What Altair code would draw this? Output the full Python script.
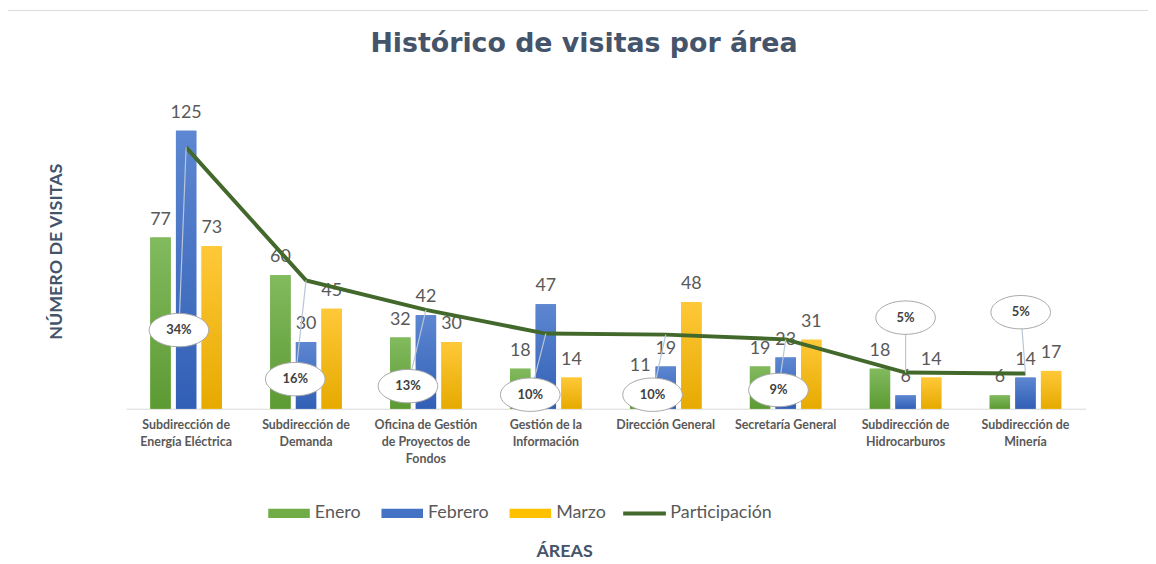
import altair as alt
import pandas as pd

# ---------------- data ----------------
area_lines = [
    ["Subdirección de", "Energía Eléctrica"],
    ["Subdirección de", "Demanda"],
    ["Oficina de Gestión", "de Proyectos de", "Fondos"],
    ["Gestión de la", "Información"],
    ["Dirección General"],
    ["Secretaría General"],
    ["Subdirección de", "Hidrocarburos"],
    ["Subdirección de", "Minería"],
]
areas = ["|".join(l) for l in area_lines]
series = ["Enero", "Febrero", "Marzo"]
enero = [77, 60, 32, 18, 11, 19, 18, 6]
febrero = [125, 30, 42, 47, 19, 23, 6, 14]
marzo = [73, 45, 30, 14, 48, 31, 14, 17]
participacion = [33.58, 16.48, 12.70, 9.65, 9.52, 8.91, 4.64, 4.52]
# callout bubble placement (horizontal shift in bands, height in % units)
callout_dx = [-0.06, -0.09, -0.15, -0.13, -0.11, -0.06, 0.0, -0.04]
callout_y = [10.1, 3.8, 2.9, 1.8, 1.8, 2.4, 11.7, 12.4]

bar_colors = ["#70ad47", "#4472c4", "#ffc000"]
grad_stops = {
    "Enero": ("#82ba5e", "#5c9a33"),
    "Febrero": ("#5d87d1", "#325fb6"),
    "Marzo": ("#ffc838", "#e6aa00"),
}
line_color = "#43682b"

rows = []
for s, vals in zip(series, [enero, febrero, marzo]):
    for a, v in zip(areas, vals):
        rows.append({"area": a, "serie": s, "visitas": v})
df_bars = pd.DataFrame(rows)

df_line = pd.DataFrame({
    "idx": list(range(len(areas))),
    "part": participacion,
    "bx": [i + d for i, d in enumerate(callout_dx)],
    "by": callout_y,
})

FONT = "Lato"
W, H = 966, 313.6

# ---------------- bars ----------------
xband = alt.X(
    "area:N",
    sort=areas,
    scale=alt.Scale(domain=areas, paddingInner=0.403, paddingOuter=0.2015),
    axis=alt.Axis(
        title="ÁREAS", titleFont=FONT, titleFontSize=18, titleFontWeight="bold",
        titleColor="#44546a", titleX=441, titleY=135, titleBaseline="top",
        labelExpr="split(datum.label, '|')", labelFont=FONT, labelFontSize=12.5,
        labelFontWeight="bold", labelColor="#595959", labelLineHeight=17,
        labelPadding=10, labelAngle=0, labelLimit=300, ticks=False,
        domainColor="#d9d9d9", domainWidth=1, grid=False,
    ),
)
xoff = alt.XOffset("serie:N", sort=series,
                   scale=alt.Scale(domain=series, paddingInner=0.205, paddingOuter=0))
ybars = alt.Y(
    "visitas:Q",
    scale=alt.Scale(domain=[0, 140], nice=False),
    axis=alt.Axis(
        title="NÚMERO DE VISITAS", titleFont=FONT, titleFontSize=18,
        titleFontWeight="bold", titleColor="#44546a", titleX=-70, titleY=155,
        titleAngle=270, titleAlign="center", titleBaseline="middle",
        labels=False, ticks=False, domain=False, grid=False,
    ),
)

base = alt.Chart(df_bars).encode(x=xband, xOffset=xoff, y=ybars)

legend_bars = base.mark_bar().encode(
    color=alt.Color(
        "serie:N", sort=series,
        scale=alt.Scale(domain=series, range=bar_colors),
        legend=alt.Legend(
            title=None, orient="none", legendX=143, legendY=398,
            direction="horizontal", symbolType="M -1 -0.22 H 1 V 0.22 H -1 Z",
            symbolSize=1750, symbolStrokeWidth=0, symbolOpacity=1,
            labelFont=FONT, labelFontSize=18, labelColor="#595959",
            labelOffset=5, columnPadding=20,
        ),
    )
)

grad_layers = []
for s in series:
    top, bot = grad_stops[s]
    grad_layers.append(
        base.mark_bar(
            color=alt.Gradient(
                gradient="linear", x1=0, x2=0, y1=0, y2=1,
                stops=[alt.GradientStop(color=top, offset=0),
                       alt.GradientStop(color=bot, offset=1)],
            )
        ).transform_filter(alt.datum.serie == s)
    )

bar_labels = base.mark_text(
    font=FONT, fontSize=18, color="#595959", baseline="alphabetic", dy=-13
).encode(text="visitas:Q")

bars_layer = alt.layer(legend_bars, *grad_layers, bar_labels)

# ---------------- participation line ----------------
xq = alt.X("idx:Q", scale=alt.Scale(domain=[-0.5, 7.5], nice=False, zero=False), axis=None)
yq = alt.Y("part:Q", scale=alt.Scale(domain=[0, 40], nice=False), axis=None)

lbase = alt.Chart(df_line).encode(x=xq, y=yq)

line = lbase.mark_line(strokeWidth=4).transform_calculate(
    leyenda="'Participación'"
).encode(
    stroke=alt.Stroke(
        "leyenda:N",
        scale=alt.Scale(domain=["Participación"], range=[line_color]),
        legend=alt.Legend(
            title=None, orient="none", legendX=498, legendY=395,
            direction="horizontal", symbolType="stroke", symbolSize=1850,
            symbolStrokeWidth=4, labelFont=FONT, labelFontSize=18,
            labelColor="#595959", labelOffset=2,
        ),
    )
)

leaders = lbase.mark_rule(color="#b9c5d8", strokeWidth=1.2).encode(
    x2="bx:Q", y2="by:Q"
)

ellipse = "M -1 0 A 1 0.56 0 1 1 1 0 A 1 0.56 0 1 1 -1 0 Z"
bubbles = alt.Chart(df_line).mark_point(
    shape=ellipse, size=3600, filled=True, fill="white", opacity=1,
    stroke="#a6a6a6", strokeWidth=1,
).encode(
    x=alt.X("bx:Q", scale=alt.Scale(domain=[-0.5, 7.5], nice=False, zero=False), axis=None),
    y=alt.Y("by:Q", scale=alt.Scale(domain=[0, 40], nice=False), axis=None),
)
bubble_text = alt.Chart(df_line).transform_calculate(
    lbl="format(datum.part, '.0f') + '%'"
).mark_text(
    font=FONT, fontSize=13, fontWeight="bold", color="#404040", baseline="middle"
).encode(
    x=alt.X("bx:Q", scale=alt.Scale(domain=[-0.5, 7.5], nice=False, zero=False), axis=None),
    y=alt.Y("by:Q", scale=alt.Scale(domain=[0, 40], nice=False), axis=None),
    text="lbl:N",
)

line_layer = alt.layer(line, leaders, bubbles, bubble_text)

border = alt.Chart(pd.DataFrame({"a": [0]})).mark_rect(
    fillOpacity=0, stroke="#dcdcdc", strokeWidth=1
).encode(
    x=alt.value(-126.5), x2=alt.value(1200), y=alt.value(-87.5), y2=alt.value(700)
)

chart = alt.layer(border, bars_layer, line_layer).resolve_scale(
    x="independent", y="independent"
).properties(
    width=W, height=H,
    title=alt.TitleParams(
        "Histórico de visitas por área", font="DejaVu Sans", fontSize=27,
        fontWeight="bold", color="#44546a", anchor="middle", dx=-22,
        offset=-48,
    ),
    autosize=alt.AutoSizeParams(type="none"),
    padding={"left": 119, "top": 88, "right": 63, "bottom": 154},
    background="white",
).configure_view(stroke=None)

chart.save("out.html", embed_options={"renderer": "svg", "actions": False})
